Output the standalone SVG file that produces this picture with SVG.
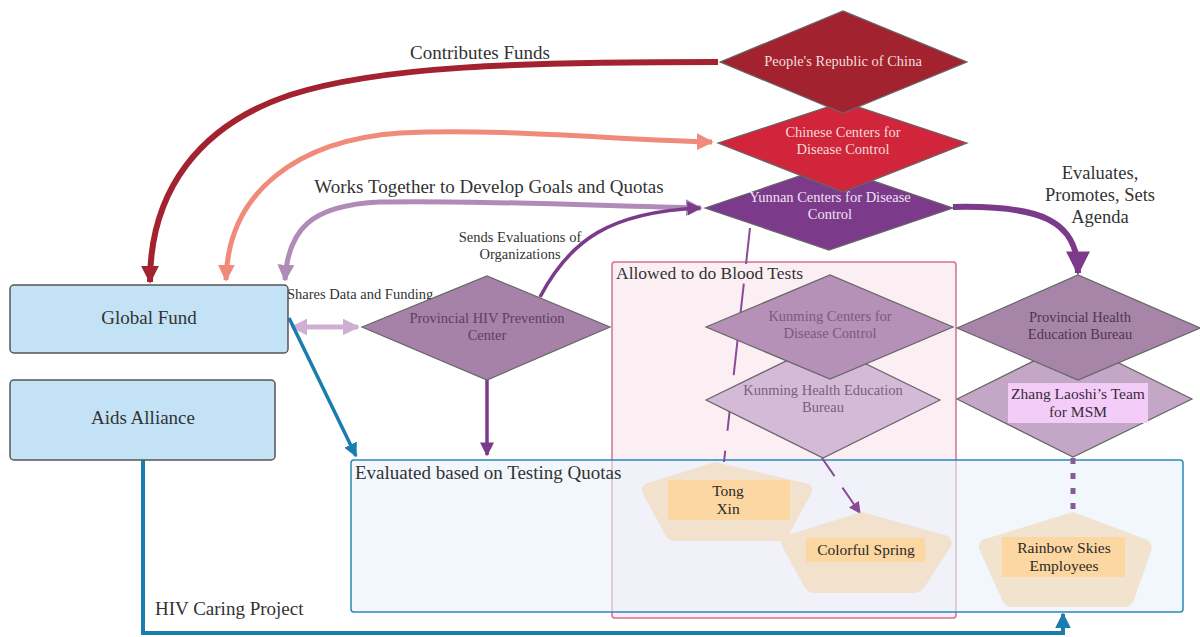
<svg xmlns="http://www.w3.org/2000/svg" width="1200" height="637" viewBox="0 0 1200 637">
<style>
text{font-family:"Liberation Serif","Times New Roman",serif;fill:#333}
.lbl{font-size:19px}
.dl{font-family:"Liberation Serif","Times New Roman",serif;font-size:14.5px;text-anchor:middle}
.sm{font-family:"Liberation Serif","Times New Roman",serif;font-size:15.5px;text-anchor:middle;fill:#2a2a2a}
.box{fill:#c3e2f5;stroke:#555;stroke-width:1.5}
.dia{stroke:#666;stroke-width:1.2}
.pent{fill:#f2dfc6;opacity:0.85}
.plab{fill:#fdd7a2}
.c{fill:none}
</style>
<defs>
<marker id="aRed" viewBox="0 0 10 10" refX="9" refY="5" markerWidth="3" markerHeight="3.4" orient="auto-start-reverse"><path d="M0,0L10,5L0,10z" fill="#a3222f"/></marker>
<marker id="aSal" viewBox="0 0 10 10" refX="9" refY="5" markerWidth="3.4" markerHeight="3.4" orient="auto-start-reverse"><path d="M0,0L10,5L0,10z" fill="#f08a7a"/></marker>
<marker id="aLp" viewBox="0 0 10 10" refX="9" refY="5" markerWidth="3.4" markerHeight="3.4" orient="auto-start-reverse"><path d="M0,0L10,5L0,10z" fill="#b08bb8"/></marker>
<marker id="aLp2" viewBox="0 0 10 10" refX="9" refY="5" markerWidth="3.4" markerHeight="3.4" orient="auto-start-reverse"><path d="M0,0L10,5L0,10z" fill="#cfb0d3"/></marker>
<marker id="aDp" viewBox="0 0 10 10" refX="9" refY="5" markerWidth="4" markerHeight="4" orient="auto-start-reverse"><path d="M0,0L10,5L0,10z" fill="#7b3a8a"/></marker>
<marker id="aDpS" viewBox="0 0 10 10" refX="9" refY="5" markerWidth="6" markerHeight="6" orient="auto-start-reverse"><path d="M0,0L10,5L0,10z" fill="#8a4a98"/></marker>
<marker id="aBl" viewBox="0 0 10 10" refX="9" refY="5" markerWidth="4" markerHeight="4" orient="auto-start-reverse"><path d="M0,0L10,5L0,10z" fill="#1a7db0"/></marker>
</defs>

<g id="container-blood">
<rect x="612" y="262" width="344" height="356" rx="3" fill="#fbe9f0" fill-opacity="0.75" stroke="#d2708f" stroke-width="1.5"/>
<text x="616" y="279" style="font-size:17.5px">Allowed to do Blood Tests</text>
</g>
<g id="container-eval">
<rect x="351" y="460" width="832" height="152" rx="3" fill="#e8f1fb" fill-opacity="0.6" stroke="#2a88b8" stroke-width="1.5"/>
<text x="355" y="479" class="lbl">Evaluated based on Testing Quotas</text>
</g>

<g id="connectors">
<path class="c" d="M718,62 C520,62 380,66 290,95 C200,125 150,190 150,282" stroke="#a3222f" stroke-width="6" marker-end="url(#aRed)"/>
<path class="c" d="M226,280 C228,190 300,140 400,133 C500,128 620,140 712,142" stroke="#f08a7a" stroke-width="5" marker-start="url(#aSal)" marker-end="url(#aSal)"/>
<path class="c" d="M285,280 C288,230 310,205 380,202 C480,200 600,206 701,208" stroke="#b08bb8" stroke-width="5" marker-start="url(#aLp)" marker-end="url(#aLp)"/>
<path class="c" d="M540,297 C570,240 610,212 700,208" stroke="#7b3a8a" stroke-width="3.5" marker-end="url(#aDp)"/>
<path class="c" d="M292,327 L358,327" stroke="#cfb0d3" stroke-width="5" marker-start="url(#aLp2)" marker-end="url(#aLp2)"/>
<path class="c" d="M289,318 L356,456" stroke="#1a7db0" stroke-width="3.5" marker-end="url(#aBl)"/>
<path class="c" d="M487,380 L487,455" stroke="#7b3a8a" stroke-width="3.5" marker-end="url(#aDp)"/>
<path class="c" d="M953,207 C1040,205 1078,220 1078,273" stroke="#7b3a8a" stroke-width="6" marker-end="url(#aDp)"/>
<path class="c" d="M750,228 L724,462" stroke="#8a4a98" stroke-width="2" stroke-dasharray="36,20"/>
<path class="c" d="M822,458 L860,513" stroke="#8a4a98" stroke-width="2" stroke-dasharray="22,14" marker-end="url(#aDpS)"/>
<path class="c" d="M1073,458 L1073,512" stroke="#8a5a9a" stroke-width="5" stroke-dasharray="6,9"/>
<path class="c" d="M143,460 L143,633 L1063,633 L1063,614" stroke="#1a7db0" stroke-width="4" marker-end="url(#aBl)"/>
<text x="480" y="59" class="lbl" text-anchor="middle">Contributes Funds</text>
<text x="489" y="193" class="lbl" text-anchor="middle">Works Together to Develop Goals and Quotas</text>
<text x="520" y="242" class="dl">Sends Evaluations of</text>
<text x="520" y="259" class="dl">Organizations</text>
<text x="287" y="299" style="font-size:14.5px">Shares Data and Funding</text>
<text x="1100" y="179" style="font-size:18.5px" text-anchor="middle">Evaluates,</text>
<text x="1100" y="201" style="font-size:18.5px" text-anchor="middle">Promotes, Sets</text>
<text x="1100" y="223" style="font-size:18.5px" text-anchor="middle">Agenda</text>
<text x="155" y="615" class="lbl">HIV Caring Project</text>
</g>

<g id="global-fund">
<rect x="10" y="285" width="278" height="68" rx="4" class="box"/>
<text x="149" y="324" class="lbl" text-anchor="middle">Global Fund</text>
</g>
<g id="aids-alliance">
<rect x="10" y="380" width="265" height="80" rx="4" class="box"/>
<text x="143" y="424" class="lbl" text-anchor="middle">Aids Alliance</text>
</g>

<g id="yunnan-cdc">
<polygon points="705,208 829,166 953,208 829,250" class="dia" fill="#7b3a8a"/>
<text x="830" y="202" class="dl" style="fill:#efe2f2">Yunnan Centers for Disease</text>
<text x="830" y="219" class="dl" style="fill:#efe2f2">Control</text>
</g>
<g id="chinese-cdc">
<polygon points="718,143 843,102 967,143 843,192" class="dia" fill="#d0253a"/>
<text x="843" y="137" class="dl" style="fill:#f5dada">Chinese Centers for</text>
<text x="843" y="154" class="dl" style="fill:#f5dada">Disease Control</text>
</g>
<g id="prc">
<polygon points="720,62 843,11 967,62 843,113" class="dia" fill="#a3222f"/>
<text x="843" y="66" class="dl" style="fill:#f3dede">People's Republic of China</text>
</g>

<g id="provincial-hiv">
<polygon points="362,327 487,276 610,327 487,380" class="dia" fill="#a682a8"/>
<text x="487" y="323" class="dl" style="fill:#5d3f63">Provincial HIV Prevention</text>
<text x="487" y="340" class="dl" style="fill:#5d3f63">Center</text>
</g>

<g id="kunming-heb">
<polygon points="706,400 823,343 940,400 823,458" class="dia" fill="#d4bad6"/>
<text x="823" y="395" class="dl" style="fill:#7a5e80">Kunming Health Education</text>
<text x="823" y="412" class="dl" style="fill:#7a5e80">Bureau</text>
</g>
<g id="kunming-cdc">
<polygon points="706,327 830,275 953,327 830,379" class="dia" fill="#b590b7"/>
<text x="830" y="321" class="dl" style="fill:#7a5a80">Kunming Centers for</text>
<text x="830" y="338" class="dl" style="fill:#7a5a80">Disease Control</text>
</g>

<g id="zhang-team">
<polygon points="957,399 1074,341 1192,399 1073,457" class="dia" fill="#c4a6c7"/>
<rect x="1008" y="383" width="140" height="40" fill="#f3cdf7"/>
<text x="1078" y="399" class="sm" style="fill:#3a2a40">Zhang Laoshi’s Team</text>
<text x="1078" y="417" class="sm" style="fill:#3a2a40">for MSM</text>
</g>
<g id="provincial-heb">
<polygon points="957,328 1078,275 1200,328 1078,380" class="dia" fill="#a785a8"/>
<text x="1080" y="322" class="dl" style="fill:#4d3553">Provincial Health</text>
<text x="1080" y="339" class="dl" style="fill:#4d3553">Education Bureau</text>
</g>

<g id="tong-xin">
<path d="M715,462 L809,484 Q814,488 811,494 L788,536 Q785,541 779,541 L675,541 Q669,541 666,536 L643,494 Q640,488 645,484 Z" class="pent"/>
<rect x="668" y="480" width="122" height="40" class="plab"/>
<text x="728" y="496" class="sm">Tong</text>
<text x="728" y="514" class="sm">Xin</text>
</g>
<g id="colorful-spring">
<path d="M862,512 L948,536 Q953,540 951,546 L924,588 Q920,593 914,593 L814,593 Q808,593 805,588 L782,546 Q779,540 784,536 Z" class="pent"/>
<rect x="806" y="538" width="119" height="24" class="plab"/>
<text x="866" y="555" class="sm">Colorful Spring</text>
</g>
<g id="rainbow-skies">
<path d="M1073,512 L1148,540 Q1153,545 1151,551 L1134,600 Q1131,607 1124,607 L1012,607 Q1005,607 1002,600 L980,551 Q977,545 982,540 Z" class="pent"/>
<rect x="1002" y="537" width="123" height="40" class="plab"/>
<text x="1064" y="553" class="sm">Rainbow Skies</text>
<text x="1064" y="571" class="sm">Employees</text>
</g>
</svg>
